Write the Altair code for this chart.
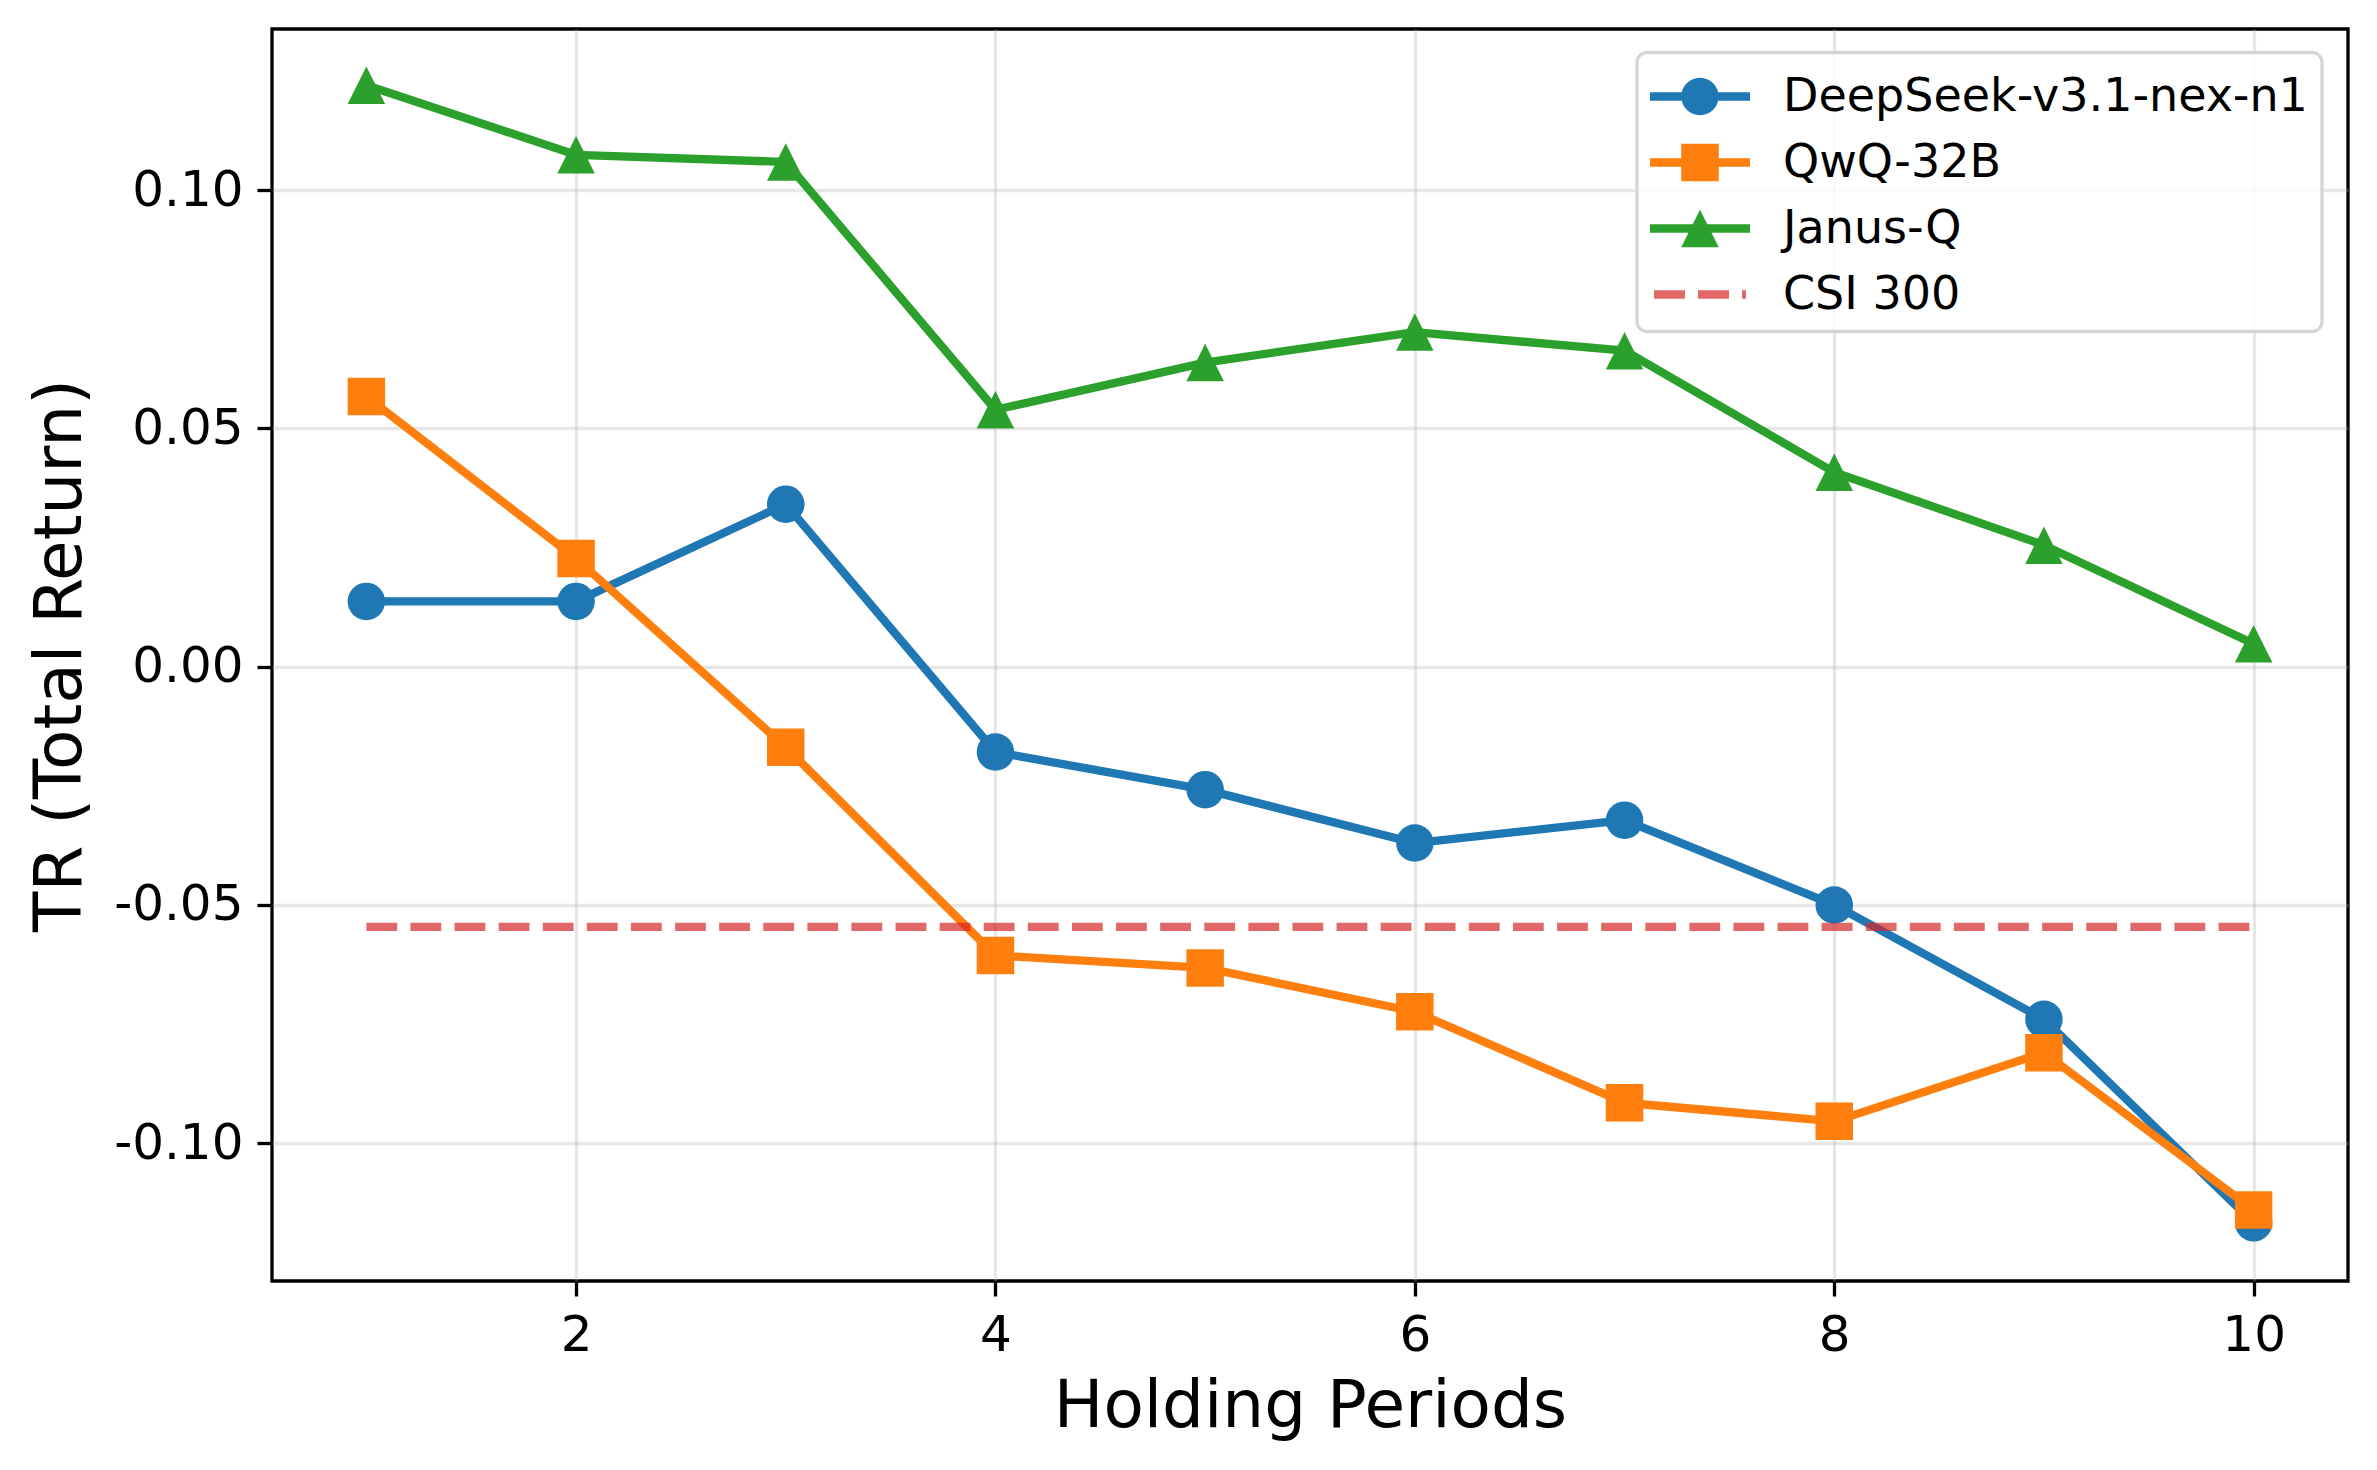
import altair as alt
import pandas as pd

# ---------------- data ----------------
periods = [1, 2, 3, 4, 5, 6, 7, 8, 9, 10]
deepseek = [0.0137, 0.0137, 0.0341, -0.0179, -0.0258, -0.0370, -0.0322, -0.0500, -0.0740, -0.1167]
qwq = [0.0567, 0.0227, -0.0169, -0.0606, -0.0632, -0.0724, -0.0915, -0.0954, -0.0810, -0.1140]
janus = [0.1220, 0.1074, 0.1059, 0.0539, 0.0638, 0.0702, 0.0663, 0.0408, 0.0255, 0.0048]
csi_x = [1, 10]
csi_value = -0.0546

series_names = ["DeepSeek-v3.1-nex-n1", "QwQ-32B", "Janus-Q", "CSI 300"]
series_colors = ["#1f77b4", "#ff7f0e", "#2ca02c", "#e26868"]
x_ticks = [2, 4, 6, 8, 10]
y_ticks = [-0.10, -0.05, 0.0, 0.05, 0.10]

# ---------------- styling ----------------
LW = 8.3
MSIZE = 1406
TRI = "M0,-1L1,1L-1,1Z"


def rect(x0, x1, h):
    return f"M{x0},{-h}L{x1},{-h}L{x1},{h}L{x0},{h}Z"


dx = 0.633
r = 0.625
h = 0.138
line_part = rect(dx - 1.666, dx + 1.667, h)
circle_p = (f"M{dx - r},0A{r},{r} 0 1 1 {dx + r},0A{r},{r} 0 1 1 {dx - r},0Z")
square_p = f"M{dx - r},{-r}L{dx + r},{-r}L{dx + r},{r}L{dx - r},{r}Z"
tri_p = f"M{dx},{-r}L{dx + r},{r}L{dx - r},{r}Z"
dash_p = (rect(dx - 1.533, dx - 0.5, h) + rect(dx - 0.066, dx + 0.967, h)
          + rect(dx + 1.4, dx + 1.534, h))
legend_paths = [line_part + circle_p, line_part + square_p, line_part + tri_p, dash_p]

x_enc = alt.X(
    "x:Q",
    scale=alt.Scale(domain=[0.55, 10.45], nice=False, zero=False),
    axis=alt.Axis(values=x_ticks, format="d", title="Holding Periods", titlePadding=14),
)
y_enc = alt.Y(
    "y:Q",
    scale=alt.Scale(domain=[-0.1289, 0.1338], nice=False, zero=False),
    axis=alt.Axis(
        values=y_ticks,
        labelExpr="datum.value < -0.0001 ? '-' + format(-datum.value, '.2f') : format(abs(datum.value), '.2f')",
        title="TR (Total Return)",
        titlePadding=19,
    ),
)

layers = []
for vals, color, shape in [
    (deepseek, series_colors[0], "circle"),
    (qwq, series_colors[1], "square"),
    (janus, series_colors[2], TRI),
]:
    df = pd.DataFrame({"x": periods, "y": vals})
    layers.append(
        alt.Chart(df).mark_line(color=color, strokeWidth=LW, strokeJoin="round").encode(x=x_enc, y=y_enc)
    )
    layers.append(
        alt.Chart(df)
        .mark_point(filled=True, color=color, size=MSIZE, shape=shape, opacity=1, strokeWidth=0)
        .encode(x=x_enc, y=y_enc)
    )

csi_df = pd.DataFrame({"x": csi_x, "y": [csi_value] * len(csi_x)})
layers.append(
    alt.Chart(csi_df)
    .mark_line(color="#d62728", opacity=0.7, strokeWidth=LW, strokeDash=[30.8, 13.3])
    .encode(x=x_enc, y=y_enc)
)

leg = alt.Legend(
    title=None,
    orient="none",
    legendX=1365,
    legendY=23.5,
    padding=14,
    symbolSize=3600,
    symbolStrokeWidth=0,
    symbolOpacity=1,
    labelFontSize=46,
    labelColor="black",
    labelOffset=72,
    rowPadding=13,
    cornerRadius=10,
    fillColor="rgba(255,255,255,0.8)",
    strokeColor="#d6d6d6",
    labelLimit=1000,
)
leg_df = pd.DataFrame({"series": series_names, "x": [1] * 4, "y": [0] * 4})
layers.append(
    alt.Chart(leg_df)
    .mark_point(filled=True, opacity=0)
    .encode(
        x=x_enc,
        y=y_enc,
        fill=alt.Fill("series:N", scale=alt.Scale(domain=series_names, range=series_colors), legend=leg),
        shape=alt.Shape("series:N", scale=alt.Scale(domain=series_names, range=legend_paths), legend=leg),
    )
)

chart = (
    alt.layer(*layers)
    .properties(width=2076, height=1252, padding={"left": 19, "top": 21, "right": 10, "bottom": 10})
    .configure(font="DejaVu Sans")
    .configure_view(stroke="black", strokeWidth=3.3)
    .configure_legend(strokeWidth=3.3)
    .configure_axis(
        labelFontSize=50,
        labelColor="black",
        labelPadding=14,
        labelFlush=False,
        labelOverlap=False,
        titleFontSize=66,
        titleFontWeight="normal",
        titleColor="black",
        tickColor="black",
        tickWidth=3.3,
        tickSize=15,
        domain=False,
        grid=True,
        gridColor="#b0b0b0",
        gridOpacity=0.3,
        gridWidth=3.3,
    )
)

chart.save("out.html", embed_options={"renderer": "svg", "actions": False})
